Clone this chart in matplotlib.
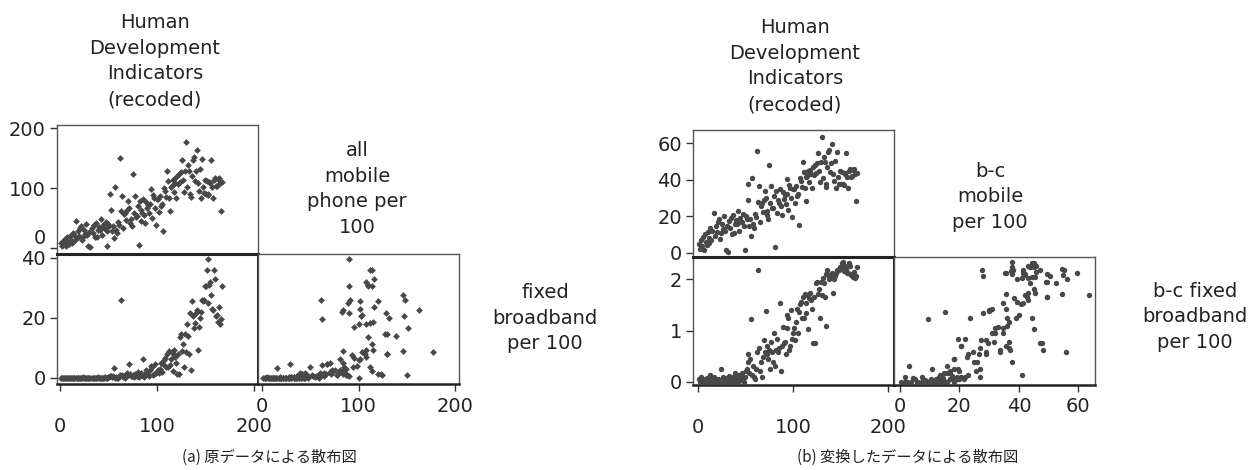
import matplotlib.pyplot as plt

# recoded HDI rank of each country
hdi = [1, 2, 3, 4, 5, 6, 7, 8, 9, 10, 11, 12, 13, 14, 15,
       17, 18, 19, 20, 21, 22, 23, 24, 25, 26, 27, 28, 29, 30, 31,
       33, 34, 35, 36, 37, 38, 39, 40, 41, 42, 43, 44, 45, 46, 47, 48, 49, 50,
       51, 52, 53, 54, 55, 56, 57, 58, 59, 60, 61, 62, 63, 64, 65, 66, 67, 68, 69, 70,
       71, 72, 73, 74, 75, 76, 77, 78, 79, 80, 81, 82, 83, 84, 85, 86, 87, 88, 89, 90,
       91, 92, 93, 94, 95, 96, 97, 98, 99, 100, 101, 102, 103, 104, 105, 106, 107, 108, 109, 110,
       111, 112, 113, 114, 115, 116, 117, 118, 119, 120, 121, 122, 123, 124, 125, 126, 127, 128, 129, 130,
       131, 132, 133, 134, 135, 136, 137, 138, 139, 140, 141, 142, 143, 144, 145, 146, 147, 148, 149, 150,
       151, 152, 153, 154, 155, 156, 157, 158, 159, 160, 161, 162, 163, 164, 165, 166, 167]

# all mobile phone subscriptions per 100
mobile = [8, 4, 12, 6, 15, 3, 18, 10, 7, 20, 14, 9, 25, 12, 22,
          45, 16, 28, 20, 33, 36, 13, 19, 30, 24, 40, 22, 3, 27, 1.5,
          34, 25, 38, 18, 42, 19, 30, 35, 30, 48, 22, 38, 33, 33, 44, 28, 3, 40,
          36, 90, 64, 28, 36, 16, 101, 30, 25, 44, 39, 150, 61, 87, 33, 56, 59, 47, 64, 78,
          67, 42, 48, 36, 124, 59, 87, 52, 53, 70, 5, 78, 45, 64, 59, 81, 55, 42, 76, 66,
          72, 58, 73, 98, 50, 88, 84, 67, 39, 81, 81, 60, 87, 70, 73, 29, 100, 95, 85, 129,
          112, 84, 62, 102, 104, 114, 93, 115, 108, 84, 120, 107, 123, 110, 127, 146, 114, 94, 129, 177,
          101, 139, 129, 90, 85, 120, 147, 151, 112, 128, 163, 108, 95, 132, 83, 148, 102, 91, 114, 90,
          112, 90, 89, 110, 108, 146, 102, 84, 114, 116, 103, 104, 115, 116, 108, 62, 110]

# fixed broadband subscriptions per 100
broadband = [0.05, 0, 0.1, 0, 0.02, 0, 0.05, 0, 0.08, 0, 0.03, 0, 0.15, 0, 0.05,
             0.1, 0, 0.02, 0, 0.05, 0, 0.03, 0.3, 0, 0.1, 0.05, 0, 0, 0.08, 0,
             0.12, 0, 0.05, 0.02, 0.1, 0, 0.2, 0.05, 0, 0.15, 0.02, 0.1, 0.05, 0.2, 0.08, 0, 0.1, 0.25,
             0.3, 0.5, 0.8, 0.2, 0.6, 3.4, 0.15, 0.4, 0.1, 0.05, 0.3, 0.9, 26.0, 1.1, 0.25, 0.5, 0.1, 0.7, 1.5, 0.9,
             4.7, 1.2, 0.8, 0.6, 1.0, 0.3, 1.4, 0.9, 0.5, 2.0, 0.4, 1.0, 1.6, 0.9, 1.1, 6.3, 0.25, 1.2, 2.6, 1.3,
             1.4, 0.8, 2.5, 4.0, 3.6, 1.0, 1.2, 4.8, 1.6, 2.0, 2.5, 1.5, 3.0, 5.0, 2.0, 4.5, 6.0, 6.5, 3.5, 8.0,
             3.5, 9.0, 4.3, 6.3, 8.8, 2.4, 7.5, 9.3, 7.0, 5.0, 1.3, 8.0, 1.3, 13.8, 14.5, 9.0, 11.3, 3.5, 14.5, 8.5,
             18.0, 14.0, 8.0, 21.5, 2.7, 25.5, 20.5, 16.8, 18.2, 21.8, 22.7, 9.3, 17.0, 20.0, 22.0, 26.0, 25.7, 26.0, 30.5, 30.5,
             36.0, 39.5, 25.0, 31.0, 32.0, 27.5, 23.0, 22.7, 36.0, 33.0, 20.5, 21.0, 18.8, 23.5, 18.0, 19.5, 30.5]

# box-cox transformed mobile
mobile_bc = [5.0, 2.4, 7.3, 3.8, 8.8, 1.7, 10.3, 6.2, 4.4, 11.3, 8.3, 5.6, 13.6, 7.3, 12.2,
             21.8, 9.3, 14.9, 11.3, 17.0, 18.3, 7.8, 10.8, 15.8, 13.1, 19.9, 12.2, 1.7, 14.5, 0.5,
             17.4, 13.6, 19.1, 10.3, 20.7, 10.8, 15.8, 17.9, 15.8, 23.0, 12.2, 19.1, 17.0, 17.0, 21.5, 14.9, 1.7, 19.9,
             18.3, 37.6, 28.8, 14.9, 18.3, 9.3, 41.1, 15.8, 13.6, 21.5, 19.5, 55.8, 27.7, 36.6, 17.0, 25.9, 27.0, 22.6, 28.8, 33.7,
             29.8, 20.7, 23.0, 18.3, 48.1, 27.0, 36.6, 24.5, 24.8, 30.9, 3.1, 33.7, 21.8, 28.8, 27.0, 34.7, 25.6, 20.7, 33.0, 29.5,
             31.6, 26.7, 32.0, 40.1, 23.7, 36.9, 35.6, 29.8, 19.5, 34.7, 34.7, 27.4, 36.6, 30.9, 32.0, 15.3, 40.8, 39.2, 36.0, 49.6,
             44.4, 35.6, 28.1, 41.4, 42.0, 45.0, 38.5, 45.3, 43.1, 35.6, 47.1, 42.8, 47.8, 43.9, 49.0, 54.6, 45.0, 38.9, 49.6, 63.5,
             41.1, 52.5, 49.6, 37.6, 36.0, 47.1, 54.9, 56.1, 44.4, 49.3, 59.6, 43.1, 39.2, 50.4, 35.3, 55.2, 41.4, 37.9, 45.0, 37.6,
             44.4, 37.6, 37.3, 43.9, 43.1, 54.6, 41.4, 35.6, 45.0, 45.6, 41.7, 42.0, 45.3, 45.6, 43.1, 28.1, 43.9]

# box-cox transformed broadband
broadband_bc = [0.05, 0, 0.09, 0, 0.02, 0, 0.05, 0, 0.08, 0, 0.03, 0, 0.14, 0, 0.05,
                0.09, 0, 0.02, 0, 0.05, 0, 0.03, 0.25, 0, 0.09, 0.05, 0, 0, 0.08, 0,
                0.11, 0, 0.05, 0.02, 0.09, 0, 0.18, 0.05, 0, 0.14, 0.02, 0.09, 0.05, 0.18, 0.08, 0, 0.09, 0.22,
                0.25, 0.39, 0.54, 0.18, 0.44, 1.22, 0.14, 0.32, 0.09, 0.05, 0.25, 0.59, 2.18, 0.67, 0.22, 0.39, 0.09, 0.49, 0.81, 0.59,
                1.39, 0.71, 0.54, 0.44, 0.63, 0.25, 0.78, 0.59, 0.39, 0.95, 0.32, 0.63, 0.84, 0.59, 0.67, 1.54, 0.22, 0.71, 1.08, 0.75,
                0.78, 0.54, 1.06, 1.30, 1.25, 0.63, 0.71, 1.40, 0.84, 0.95, 1.06, 0.81, 1.16, 1.42, 0.95, 1.37, 1.51, 1.55, 1.24, 1.66,
                1.24, 1.72, 1.34, 1.54, 1.70, 1.04, 1.63, 1.73, 1.59, 1.42, 0.75, 1.66, 0.75, 1.92, 1.94, 1.72, 1.82, 1.24, 1.94, 1.69,
                2.03, 1.92, 1.66, 2.11, 1.10, 2.18, 2.09, 2.00, 2.04, 2.11, 2.13, 1.73, 2.01, 2.07, 2.12, 2.18, 2.18, 2.18, 2.24, 2.24,
                2.31, 2.34, 2.17, 2.25, 2.26, 2.21, 2.13, 2.13, 2.31, 2.27, 2.09, 2.10, 2.05, 2.14, 2.03, 2.07, 2.24]

names_a = ['Human\nDevelopment\nIndicators\n(recoded)', 'all\nmobile\nphone per\n100', 'fixed\nbroadband\nper 100']
names_b = ['Human\nDevelopment\nIndicators\n(recoded)', 'b-c\nmobile\nper 100', 'b-c fixed\nbroadband\nper 100']
ticks_a = [[0, 100, 200], [0, 100, 200], [0, 20, 40]]
ticks_b = [[0, 100, 200], [0, 20, 40, 60], [0, 1, 2]]
captions = ['(a) 原データによる散布図', '(b) 変換したデータによる散布図']

W, H = 1255, 470
plt.rcParams['font.family'] = ['DejaVu Sans', 'Noto Sans CJK JP']

fig = plt.figure(figsize=(W / 100, H / 100), dpi=100)


def box(x0, y0, x1, y1):
    # pixel box (from top-left) -> figure fraction rect
    return [x0 / W, 1 - y1 / H, (x1 - x0) / W, (y1 - y0) / H]


def style(ax, bottom_pad=4):
    for s in ax.spines.values():
        s.set_color('#555555')
        s.set_linewidth(1.0)
    ax.tick_params(direction='out', length=5, width=1, color='#333333',
                   labelsize=14, labelcolor='#222222', pad=3)
    ax.tick_params(axis='x', pad=bottom_pad)


def draw_matrix(x, y1, y2, boxes, lims, ticks, names, name_pos, caption, cap_x,
                marker, size, raise_zero=False):
    kw = dict(marker=marker, s=size, color='#484848', linewidths=0, zorder=3)

    tl = fig.add_axes(box(*boxes[0]))
    tl.scatter(x, y1, **kw)
    tl.set_xlim(lims[0])
    tl.set_ylim(lims[1])
    tl.set_xticks([])
    tl.set_yticks(ticks[1])
    style(tl)
    if raise_zero:
        # bottom label sits a little higher so it clears the panel below
        tl.get_yticklabels()[0].set_va('bottom')

    bl = fig.add_axes(box(*boxes[1]))
    bl.scatter(x, y2, **kw)
    bl.set_xlim(lims[0])
    bl.set_ylim(lims[2])
    bl.set_xticks(ticks[0])
    bl.set_yticks(ticks[2])
    style(bl, bottom_pad=19)
    for side, lw in [('top', 2.2), ('right', 2.2), ('bottom', 1.8)]:
        bl.spines[side].set_linewidth(lw)
        bl.spines[side].set_color('#222222')

    br = fig.add_axes(box(*boxes[2]))
    br.scatter(y1, y2, **kw)
    br.set_xlim(lims[3])
    br.set_ylim(lims[2])
    br.set_xticks(ticks[1])
    br.set_yticks([])
    style(br, bottom_pad=4)
    br.spines['bottom'].set_linewidth(1.8)
    br.spines['bottom'].set_color('#222222')

    for name, (px, py) in zip(names, name_pos):
        fig.text(px / W, 1 - py / H, name, ha='center', va='center',
                 multialignment='center', fontsize=14, linespacing=1.45,
                 color='#222222')

    fig.text(cap_x / W, 1 - 457 / H, caption, ha='left', va='center',
             fontsize=11, color='#222222', family=['Noto Sans CJK JP', 'DejaVu Sans'])


draw_matrix(hdi, mobile, broadband,
            boxes=[(57, 125, 258, 254), (57, 254, 258, 384), (258, 254, 459, 384)],
            lims=[(-3, 204), (-10, 205), (-2, 41.3), (-4, 204)],
            ticks=ticks_a, names=names_a,
            name_pos=[(155, 61), (357, 189), (545, 318)],
            caption=captions[0], cap_x=182, marker='D', size=12, raise_zero=True)

draw_matrix(hdi, mobile_bc, broadband_bc,
            boxes=[(693, 130, 894, 257), (693, 257, 894, 385), (894, 257, 1095, 385)],
            lims=[(-5.3, 206), (-2.2, 67.1), (-0.06, 2.436), (-2.0, 65.6)],
            ticks=ticks_b, names=names_b,
            name_pos=[(795, 66), (990, 197), (1195, 317)],
            caption=captions[1], cap_x=797, marker='o', size=15)

fig.savefig('out.png', dpi=100)
